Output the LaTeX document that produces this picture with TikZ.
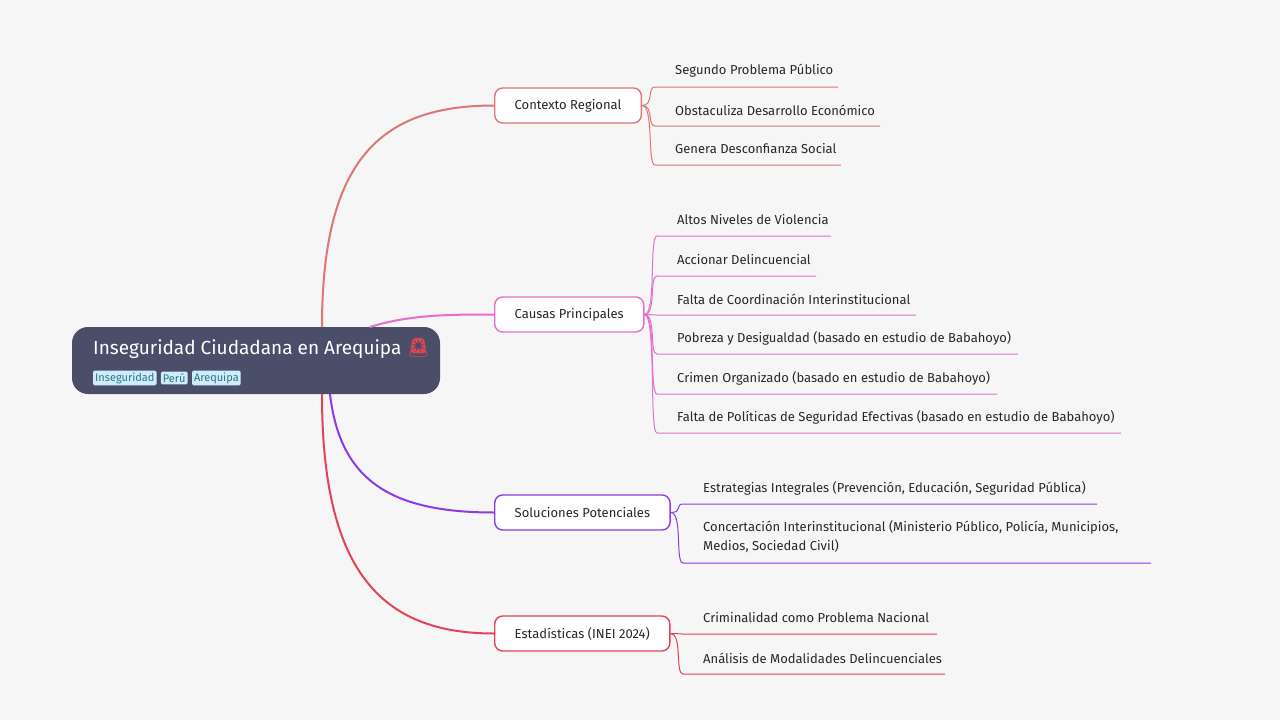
\documentclass[tikz,border=0pt]{standalone}
\usepackage{fontspec}
\setmainfont{Fira Sans}
\newfontfamily\emojifont{Noto Emoji}
\usetikzlibrary{positioning,calc}
\definecolor{bgc}{RGB}{246,246,246}
\definecolor{rootc}{RGB}{74,78,105}
\definecolor{ctxc}{RGB}{222,118,118}
\definecolor{cauc}{RGB}{230,110,205}
\definecolor{solc}{RGB}{140,60,230}
\definecolor{estc}{RGB}{226,68,86}
\definecolor{tagc}{RGB}{205,238,248}
\definecolor{tagt}{RGB}{50,115,140}
\definecolor{txtc}{RGB}{40,40,40}
\tikzset{
  branch/.style={draw=#1, line width=1.4pt, fill=white, rounded corners=8pt,
    minimum height=35pt, inner xsep=20pt, font=\fontsize{13}{15}\selectfont, text=txtc},
  leaf/.style={anchor=west, inner sep=0pt, font=\fontsize{13}{19}\selectfont, text=txtc, align=left},
  tag/.style={fill=tagc, text=tagt, rounded corners=1.5pt, inner xsep=2pt, inner ysep=2pt,
    font=\fontsize{11}{12}\selectfont},
  edge/.style={draw=#1, line width=2pt},
  twig/.style={draw=#1, line width=1pt},
}
% leaf: name, text x, text y, underline y, end x, colour, parent, text
\newcommand\lf[8]{
  \node[leaf] (#1) at (#2,#3) {#8};
  \coordinate (#1s) at (#2-20,#4);
  \draw[twig=#6] (#7.east) .. controls ($(#7.east)+(12,0)$) and ($(#1s)+(-8,0)$) .. (#1s) -- (#5,#4);
}
\begin{document}
\begin{tikzpicture}[x=1pt,y=-1pt]
\fill[bgc] (0,0) rectangle (1280,720);
\useasboundingbox (0,0) rectangle (1280,720);

% root
\node[fill=rootc, rounded corners=16pt, minimum width=368pt, minimum height=67pt] (root) at (256,360.5) {};
\node[anchor=west, text=white, inner sep=0pt, font=\fontsize{19}{21}\selectfont] (title) at (93,348)
  {Inseguridad Ciudadana en Arequipa {\emojifont\textcolor{estc}{🚨}}};
\node[tag, anchor=west] (t1) at (93,378) {Inseguridad};
\node[tag, right=4pt of t1] (t2) {Perú};
\node[tag, right=4pt of t2] (t3) {Arequipa};

% branches
\node[branch=ctxc, anchor=west] (ctx) at (494,105.5) {Contexto Regional};
\node[branch=cauc, anchor=west] (cau) at (494,314.5) {Causas Principales};
\node[branch=solc, anchor=west] (sol) at (494,512.5) {Soluciones Potenciales};
\node[branch=estc, anchor=west] (est) at (494,633.5) {Estadísticas (INEI 2024)};

% edges from the root
\draw[edge=ctxc] (322,327) .. controls (322,160) and (380,105.5) .. (ctx.west);
\draw[edge=cauc] (370,327) .. controls (410,314.5) and (450,314.5) .. (cau.west);
\draw[edge=solc] (330,394) .. controls (340,480) and (390,512.5) .. (sol.west);
\draw[edge=estc] (322,394) .. controls (322,570) and (380,633.5) .. (est.west);

% leaves
\lf{c1}{675}{71}{87}{838}{ctxc}{ctx}{Segundo Problema Público}
\lf{c2}{675}{110}{126}{880}{ctxc}{ctx}{Obstaculiza Desarrollo Económico}
\lf{c3}{675}{149}{165}{841}{ctxc}{ctx}{Genera Desconfianza Social}

\lf{p1}{677}{220}{236}{831}{cauc}{cau}{Altos Niveles de Violencia}
\lf{p2}{677}{260}{276}{816}{cauc}{cau}{Accionar Delincuencial}
\lf{p3}{677}{299}{315}{916}{cauc}{cau}{Falta de Coordinación Interinstitucional}
\lf{p4}{677}{338}{354}{1018}{cauc}{cau}{Pobreza y Desigualdad (basado en estudio de Babahoyo)}
\lf{p5}{677}{378}{394}{997}{cauc}{cau}{Crimen Organizado (basado en estudio de Babahoyo)}
\lf{p6}{677}{417}{433}{1121}{cauc}{cau}{Falta de Políticas de Seguridad Efectivas (basado en estudio de Babahoyo)}

\lf{s1}{703}{488}{504}{1097}{solc}{sol}{Estrategias Integrales (Prevención, Educación, Seguridad Pública)}
\lf{s2}{703}{537}{563}{1151}{solc}{sol}{Concertación Interinstitucional (Ministerio Público, Policía, Municipios,\\Medios, Sociedad Civil)}

\lf{e1}{703}{618}{634}{937}{estc}{est}{Criminalidad como Problema Nacional}
\lf{e2}{703}{658}{674}{945}{estc}{est}{Análisis de Modalidades Delincuenciales}
\end{tikzpicture}
\end{document}
